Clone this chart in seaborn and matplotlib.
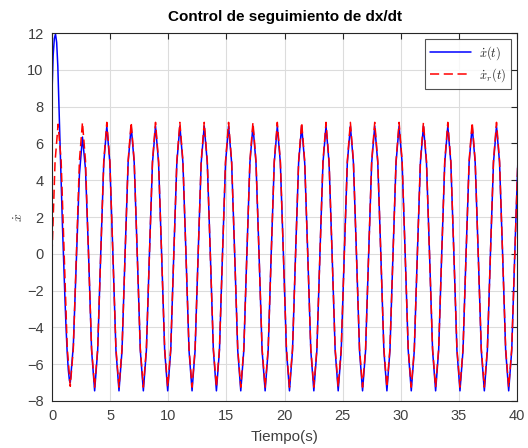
"""
Control de seguimiento de dx/dt - MATLAB style tracking plot
"""

import numpy as np
import pandas as pd
import matplotlib
matplotlib.use("Agg")
import matplotlib.pyplot as plt
import seaborn as sns

# sample spacing: period ~2.094 s, 8 samples per cycle
dt = 0.2618
t_grid = np.arange(154) * dt

# reference dx_r/dt, one row per cycle
ref_rows = [
    [0.0, 5.00, 7.05, 5.05, 0.0, -5.10, -7.20, -5.15],
    [0.0, 5.05, 7.15, 5.05, 0.0, -5.15, -7.25, -5.15],
    [0.0, 5.05, 7.15, 5.05, 0.0, -5.15, -7.25, -5.15],
    [0.0, 5.05, 7.15, 5.05, 0.0, -5.15, -7.25, -5.15],
    [0.0, 5.05, 7.15, 5.05, 0.0, -5.15, -7.25, -5.15],
    [0.0, 5.05, 7.15, 5.05, 0.0, -5.15, -7.25, -5.15],
    [0.0, 5.05, 7.15, 5.05, 0.0, -5.15, -7.25, -5.15],
    [0.0, 5.05, 7.15, 5.05, 0.0, -5.15, -7.25, -5.15],
    [0.0, 5.05, 7.15, 5.05, 0.0, -5.15, -7.25, -5.15],
    [0.0, 5.05, 7.15, 5.05, 0.0, -5.15, -7.25, -5.15],
    [0.0, 5.05, 7.15, 5.05, 0.0, -5.15, -7.25, -5.15],
    [0.0, 5.05, 7.15, 5.05, 0.0, -5.15, -7.25, -5.15],
    [0.0, 5.05, 7.15, 5.05, 0.0, -5.15, -7.25, -5.15],
    [0.0, 5.05, 7.15, 5.05, 0.0, -5.15, -7.25, -5.15],
    [0.0, 5.05, 7.15, 5.05, 0.0, -5.15, -7.25, -5.15],
    [0.0, 5.05, 7.15, 5.05, 0.0, -5.15, -7.25, -5.15],
    [0.0, 5.05, 7.15, 5.05, 0.0, -5.15, -7.25, -5.15],
    [0.0, 5.05, 7.15, 5.05, 0.0, -5.15, -7.25, -5.15],
    [0.0, 5.05, 7.15, 5.05, 0.0, -5.15, -7.25, -5.15],
    [0.0, 5.05],
]

# measured dx/dt: start-up transient (finer time steps)
blue_t_start = [0.0, 0.1, 0.2, 0.3, 0.4, 0.5, 0.6, 0.7,
                0.8, 0.9, 1.0, 1.1, 1.2, 1.3, 1.4, 1.5]
blue_start = [8.8, 10.8, 11.7, 11.95, 11.5, 10.2, 8.1, 5.8,
              3.6, 1.5, -0.4, -2.2, -3.9, -5.3, -6.3, -6.9]

# measured dx/dt on the sample grid, from the 7th sample onwards
blue_rows = [
    [-7.00, -5.00],
    [-0.4, 4.30, 6.35, 4.60, 0.0, -5.25, -7.45, -5.25],
    [0.0, 4.95, 6.95, 4.95, 0.0, -5.25, -7.45, -5.25],
    [0.0, 4.95, 6.95, 4.95, 0.0, -5.25, -7.45, -5.25],
    [0.0, 4.95, 6.95, 4.95, 0.0, -5.25, -7.45, -5.25],
    [0.0, 4.95, 6.95, 4.95, 0.0, -5.25, -7.45, -5.25],
    [0.0, 4.95, 6.95, 4.95, 0.0, -5.25, -7.45, -5.25],
    [0.0, 4.95, 6.95, 4.95, 0.0, -5.25, -7.45, -5.25],
    [0.0, 4.95, 6.95, 4.95, 0.0, -5.25, -7.45, -5.25],
    [0.0, 4.95, 6.95, 4.95, 0.0, -5.25, -7.45, -5.25],
    [0.0, 4.95, 6.95, 4.95, 0.0, -5.25, -7.45, -5.25],
    [0.0, 4.95, 6.95, 4.95, 0.0, -5.25, -7.45, -5.25],
    [0.0, 4.95, 6.95, 4.95, 0.0, -5.25, -7.45, -5.25],
    [0.0, 4.95, 6.95, 4.95, 0.0, -5.25, -7.45, -5.25],
    [0.0, 4.95, 6.95, 4.95, 0.0, -5.25, -7.45, -5.25],
    [0.0, 4.95, 6.95, 4.95, 0.0, -5.25, -7.45, -5.25],
    [0.0, 4.95, 6.95, 4.95, 0.0, -5.25, -7.45, -5.25],
    [0.0, 4.95, 6.95, 4.95, 0.0, -5.25, -7.45, -5.25],
    [0.0, 4.95, 6.95, 4.95, 0.0, -5.25, -7.45, -5.25],
    [0.0, 4.95],
]

x_ticks = [0, 5, 10, 15, 20, 25, 30, 35, 40]
y_ticks = [-8, -6, -4, -2, 0, 2, 4, 6, 8, 10, 12]

ref_vals = [v for row in ref_rows for v in row]
blue_grid = [v for row in blue_rows for v in row]

df_ref = pd.DataFrame({"t": t_grid[:len(ref_vals)], "v": ref_vals})
df_blue = pd.DataFrame({
    "t": list(blue_t_start) + list(t_grid[6:6 + len(blue_grid)]),
    "v": blue_start + blue_grid,
})

sns.set_style("whitegrid")
plt.rcParams["font.family"] = ["Liberation Sans", "DejaVu Sans"]
plt.rcParams["mathtext.fontset"] = "cm"

fig = plt.figure(figsize=(5.28, 4.48), dpi=100)
ax = fig.add_axes([0.0985, 0.105, 0.881, 0.821])

axis_col = "#262626"
label_col = "#404040"

sns.lineplot(data=df_blue, x="t", y="v", ax=ax, color="#0000ff", lw=1.1,
             estimator=None, sort=False, label=r"$\dot{x}(t)$")
sns.lineplot(data=df_ref, x="t", y="v", ax=ax, color="#ff0000", lw=1.1,
             estimator=None, sort=False, label=r"$\dot{x}_r(t)$")
ax.lines[1].set_dashes([6, 3])

ax.set_xlim(0, 40)
ax.set_ylim(-8, 12)
ax.set_xticks(x_ticks)
ax.set_yticks(y_ticks)
ax.grid(True, color="#dcdcdc", lw=0.8)
ax.set_facecolor("white")

for s in ax.spines.values():
    s.set_visible(True)
    s.set_color(axis_col)
    s.set_linewidth(0.8)

ax.tick_params(direction="in", length=4, width=0.8, colors=axis_col,
               labelsize=10.5, top=True, right=True, pad=6)
for lab in ax.get_xticklabels() + ax.get_yticklabels():
    lab.set_color(label_col)

ax.set_title("Control de seguimiento de dx/dt", fontsize=11,
             fontweight="bold", color="black", pad=9)
ax.set_xlabel("Tiempo(s)", fontsize=11, color=label_col, labelpad=5)
ax.set_ylabel(r"$\dot{x}$", fontsize=10, color=label_col, labelpad=1)

leg = ax.legend(loc="upper right", fontsize=9, handlelength=3.3,
                frameon=True, fancybox=False, borderpad=0.4,
                labelspacing=0.3, borderaxespad=0.5, handletextpad=0.6)
leg.get_frame().set_edgecolor(axis_col)
leg.get_frame().set_linewidth(0.8)

fig.savefig("out.png", dpi=100, facecolor="white")
